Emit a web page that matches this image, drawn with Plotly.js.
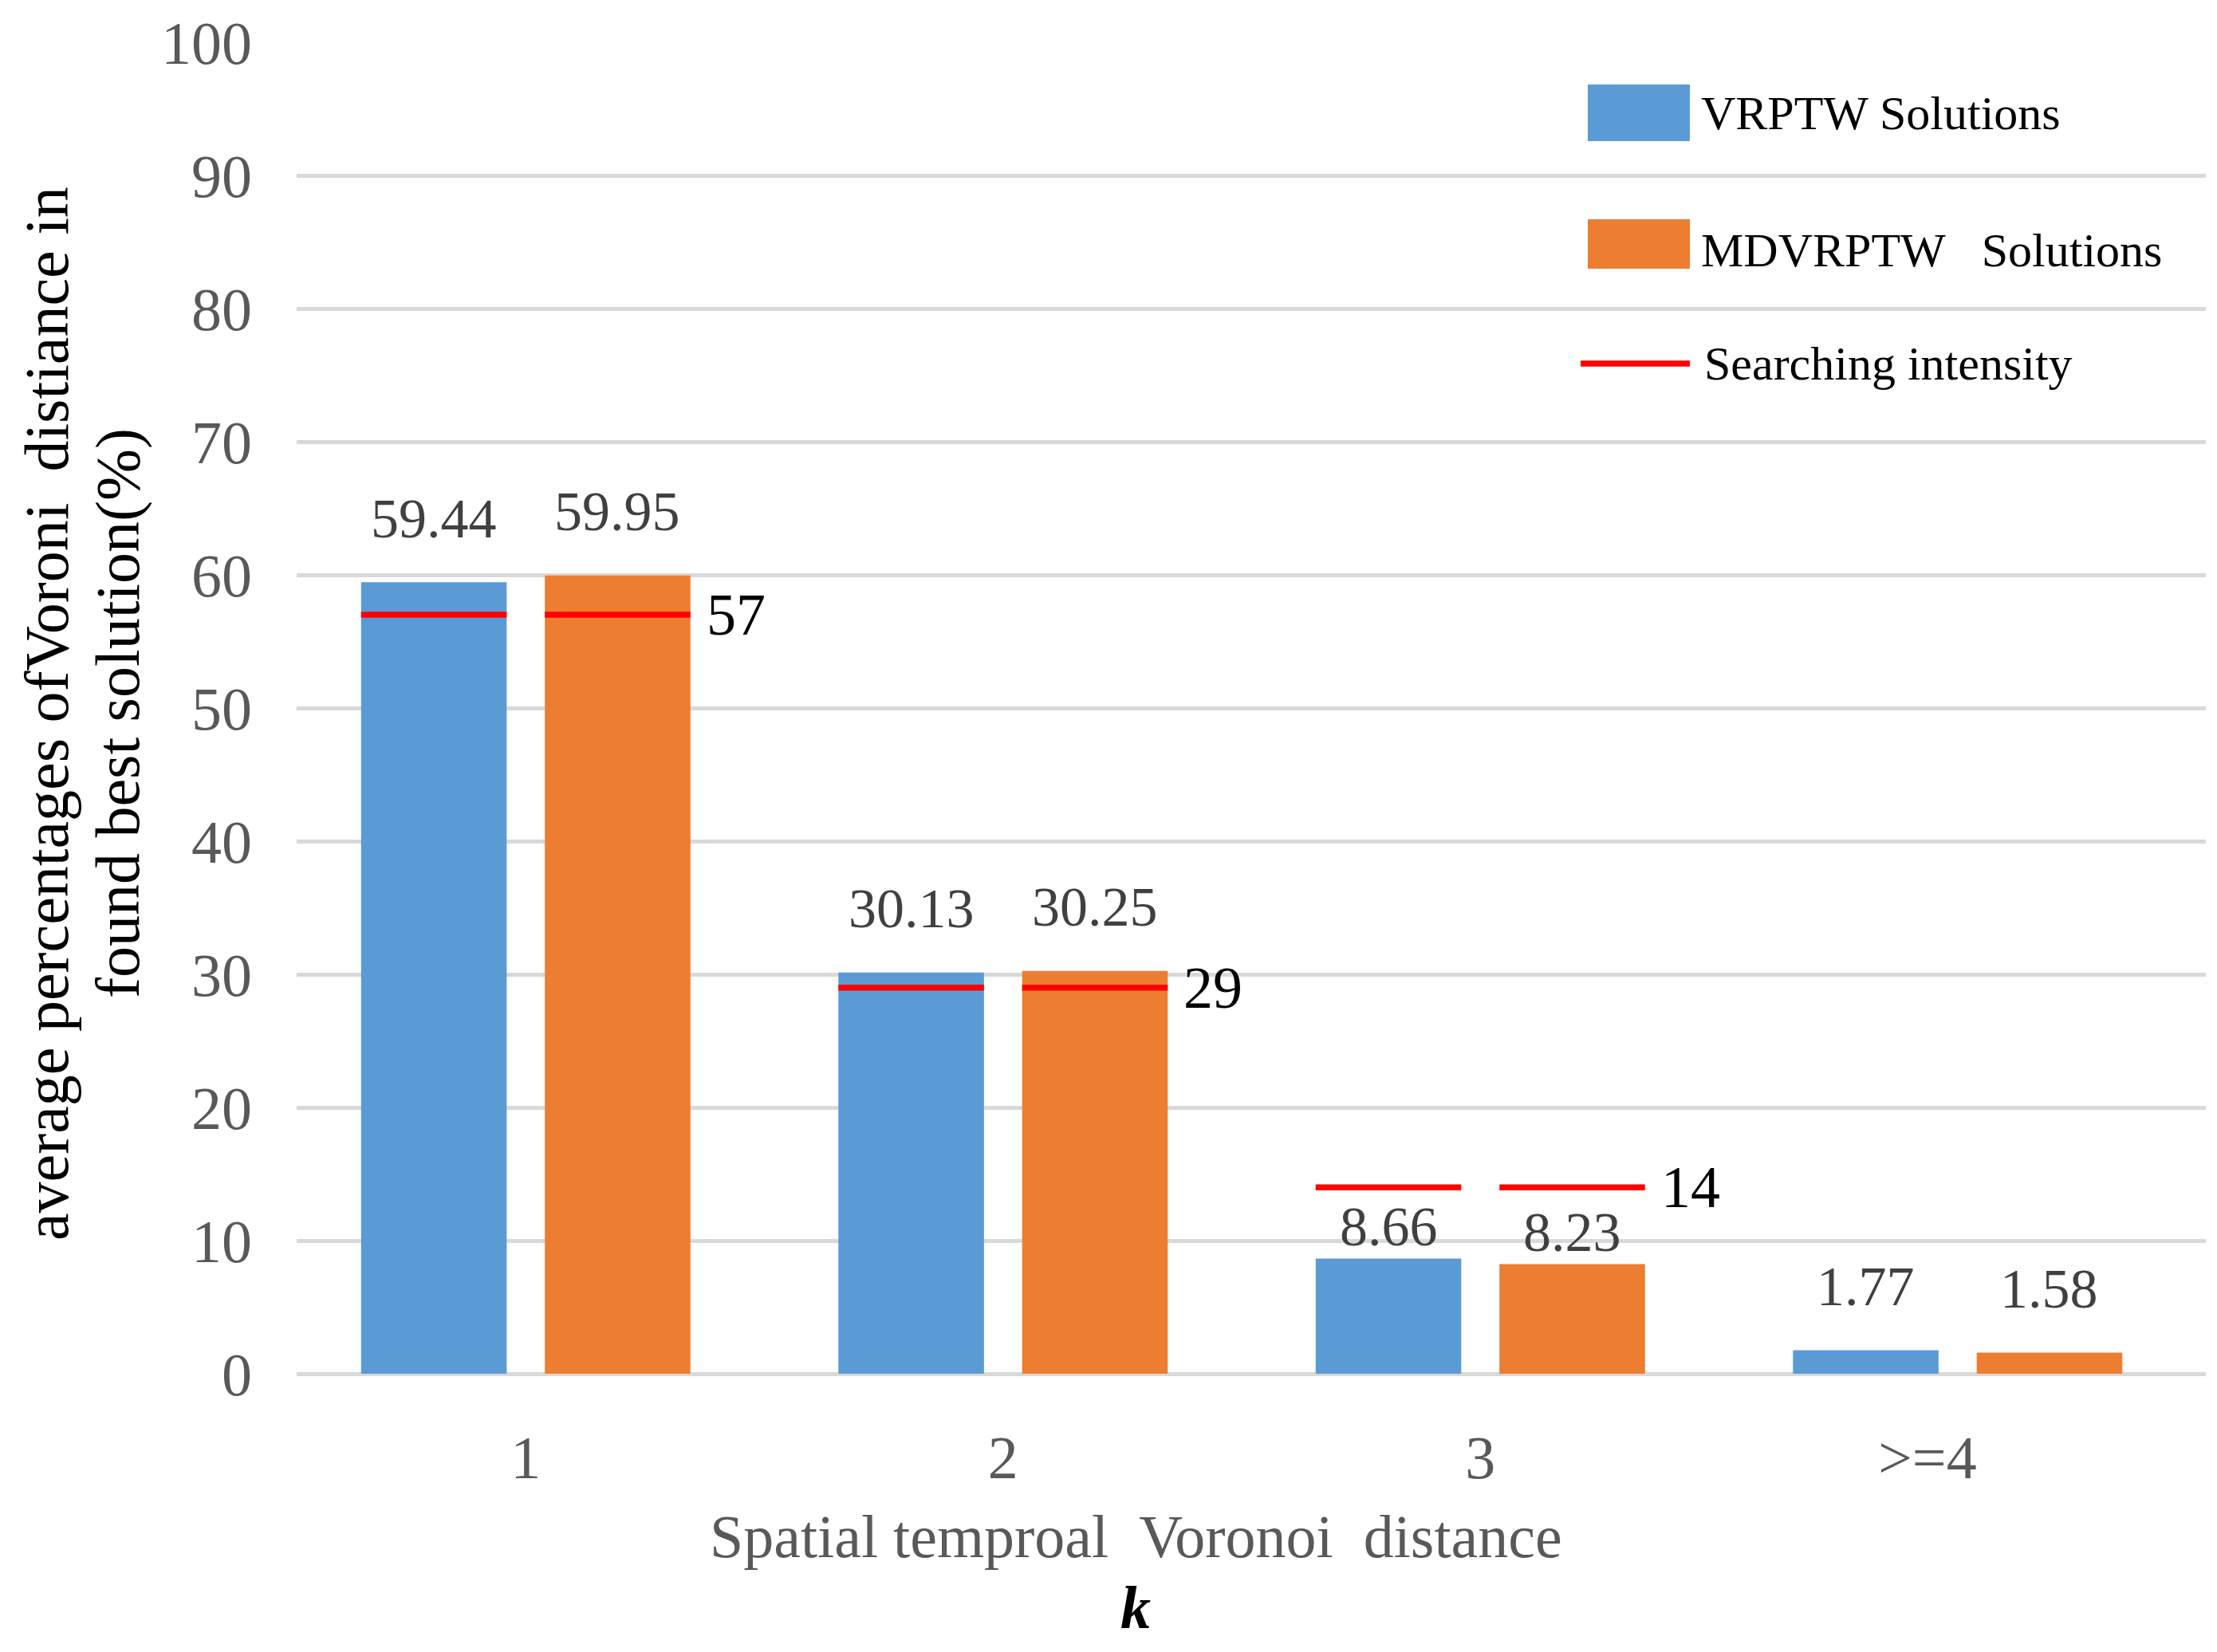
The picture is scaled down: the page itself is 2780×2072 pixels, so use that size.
<!DOCTYPE html>
<html>
<head>
<meta charset="utf-8">
<script src="https://cdn.plot.ly/plotly-3.0.1.min.js"></script>
<style>
  html, body { margin: 0; padding: 0; background: #fff; }
  #chart { width: 2780px; height: 2072px; }
</style>
</head>
<body>
<div id="chart"></div>
<script>
// values
var categories = ['1', '2', '3', '>=4'];
var vrptwValues = [59.44, 30.13, 8.66, 1.77];
var mdvrptwValues = [59.95, 30.25, 8.23, 1.58];
var searchIntensity = [57, 29, 14, null];

var seriesNames = ['VRPTW Solutions', 'MDVRPTW\u00a0\u00a0\u00a0Solutions', 'Searching intensity'];
var yTitleLines = ['average percentages ofVoroni\u00a0\u00a0distiance in', 'found best solution(%)'];

var BLUE = '#5b9bd5';
var ORANGE = '#ed7d31';
var RED = '#ff0000';
var FONT = 'Liberation Serif, Times New Roman, serif';

// bar geometry, in category units
var BAR_W = 0.305;
var BAR_GAP = 0.08;
var blueOffset = -BAR_W - BAR_GAP / 2;
var orangeOffset = BAR_GAP / 2;

var W = 2780, H = 2072;
var margin = { l: 372, r: 14, t: 53, b: 349 };
var plotW = W - margin.l - margin.r;
var plotH = H - margin.t - margin.b;

// pixel -> paper helpers for the hand drawn legend and titles
function px(x) { return (x - margin.l) / plotW; }
function py(y) { return (H - margin.b - y) / plotH; }

var idx = categories.map(function (c, i) { return i; });

var blueTrace = {
  type: 'bar',
  name: seriesNames[0],
  x: idx,
  y: vrptwValues,
  width: BAR_W,
  offset: blueOffset,
  marker: { color: BLUE, line: { width: 0 } },
  hoverinfo: 'y'
};

var orangeTrace = {
  type: 'bar',
  name: seriesNames[1],
  x: idx,
  y: mdvrptwValues,
  width: BAR_W,
  offset: orangeOffset,
  marker: { color: ORANGE, line: { width: 0 } },
  hoverinfo: 'y'
};

// red segments across each bar at the searching intensity level
var redX = [], redY = [];
searchIntensity.forEach(function (v, i) {
  if (v === null) return;
  [blueOffset, orangeOffset].forEach(function (off) {
    redX.push(i + off, i + off + BAR_W, null);
    redY.push(v, v, null);
  });
});

var redTrace = {
  type: 'scatter',
  mode: 'lines',
  name: seriesNames[2],
  x: redX,
  y: redY,
  line: { color: RED, width: 7.5 },
  hoverinfo: 'skip'
};

var annotations = [];

// value labels above the bars
function addValueLabels(values, off) {
  values.forEach(function (v, i) {
    var lineAbove = searchIntensity[i] !== null && searchIntensity[i] > v;
    annotations.push({
      x: i + off + BAR_W / 2, y: v, xref: 'x', yref: 'y',
      text: v.toFixed(2), showarrow: false,
      yanchor: 'middle', yshift: lineAbove ? 40 : 80,
      font: { family: FONT, size: 70, color: '#404040' }
    });
  });
}
addValueLabels(vrptwValues, blueOffset);
addValueLabels(mdvrptwValues, orangeOffset);

// intensity labels right of the red lines
searchIntensity.forEach(function (v, i) {
  if (v === null) return;
  annotations.push({
    x: i + orangeOffset + BAR_W, y: v, xref: 'x', yref: 'y',
    text: String(v), showarrow: false,
    xanchor: 'left', yanchor: 'middle', xshift: 18,
    font: { family: FONT, size: 74, color: '#000' }
  });
});

// axis titles
[58, 147].forEach(function (x, k) {
  annotations.push({
    x: px(x), y: py(895), xref: 'paper', yref: 'paper',
    text: yTitleLines[k],
    textangle: -90, showarrow: false, xanchor: 'center', yanchor: 'middle',
    font: { family: FONT, size: 78, color: '#000' }
  });
});
annotations.push({
  x: px(1424), y: py(1927), xref: 'paper', yref: 'paper',
  text: 'Spatial temproal\u00a0\u00a0Voronoi\u00a0\u00a0distance',
  showarrow: false, xanchor: 'center', yanchor: 'middle',
  font: { family: FONT, size: 76, color: '#595959' }
});
annotations.push({
  x: px(1424), y: py(2016), xref: 'paper', yref: 'paper',
  text: '<b><i>k</i></b>',
  showarrow: false, xanchor: 'center', yanchor: 'middle',
  font: { family: FONT, size: 76, color: '#000' }
});

// legend, drawn by hand to get the big swatches
var shapes = [
  { type: 'rect', xref: 'paper', yref: 'paper', x0: px(1991), x1: px(2119), y0: py(177), y1: py(106),
    fillcolor: BLUE, line: { width: 0 } },
  { type: 'rect', xref: 'paper', yref: 'paper', x0: px(1991), x1: px(2119), y0: py(337), y1: py(275),
    fillcolor: ORANGE, line: { width: 0 } },
  { type: 'line', xref: 'paper', yref: 'paper', x0: px(1982), x1: px(2119), y0: py(456), y1: py(456),
    line: { color: RED, width: 7.5 } }
];
[[2131, 142], [2131, 314], [2135, 456]].forEach(function (p, k) {
  annotations.push({
    x: px(p[0]), y: py(p[1]), xref: 'paper', yref: 'paper',
    text: seriesNames[k], showarrow: false, xanchor: 'left', yanchor: 'middle',
    font: { family: FONT, size: 60, color: '#000' }
  });
});

var layout = {
  width: W,
  height: H,
  margin: margin,
  paper_bgcolor: '#fff',
  plot_bgcolor: '#fff',
  barmode: 'overlay',
  showlegend: false,
  font: { family: FONT, color: '#595959' },
  xaxis: {
    range: [-0.48, 3.52],
    tickmode: 'array',
    tickvals: idx,
    // the last label sits a little left of its group in the original
    ticktext: categories.map(function (c, i) { return i === 3 ? c + '\u00a0\u00a0\u00a0\u00a0' : c; }),
    showgrid: false,
    zeroline: false,
    showline: false,
    ticks: '',
    ticklabelstandoff: 54,
    tickfont: { family: FONT, size: 76, color: '#595959' }
  },
  yaxis: {
    range: [0, 100],
    dtick: 10,
    showgrid: true,
    gridcolor: '#d9d9d9',
    gridwidth: 5,
    zeroline: true,
    zerolinecolor: '#d9d9d9',
    zerolinewidth: 5,
    showline: false,
    ticks: '',
    ticklabelstandoff: 55,
    tickfont: { family: FONT, size: 76, color: '#595959' }
  },
  shapes: shapes,
  annotations: annotations
};

Plotly.newPlot('chart', [blueTrace, orangeTrace, redTrace], layout, { displayModeBar: false, staticPlot: true });
</script>
</body>
</html>
